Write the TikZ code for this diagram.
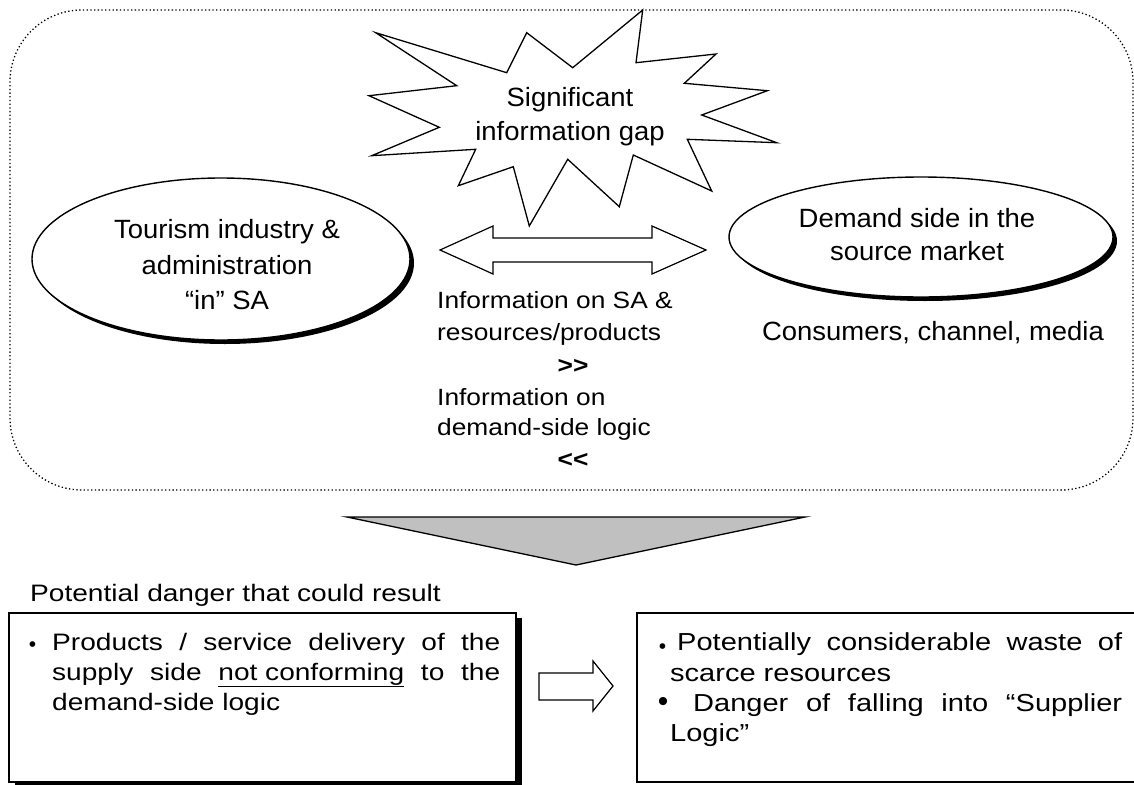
\documentclass[tikz,border=0pt]{standalone}
\usepackage{fontspec}
\setmainfont{Liberation Sans}
% slightly widened faces for the different text groups
\newfontfamily\topfont{Liberation Sans}[FakeStretch=1.04]
\newfontfamily\infofont{Liberation Sans}[FakeStretch=1.12]
\newfontfamily\lowfont{Liberation Sans}[FakeStretch=1.18]
\usetikzlibrary{shapes.geometric,shadows}
\definecolor{arrowgray}{RGB}{192,192,192}

\begin{document}
\begin{tikzpicture}[x=1pt,y=-1pt,
  txt/.style={font=\topfont\fontsize{26.4}{34}\selectfont, inner sep=0, anchor=base},
  infotxt/.style={font=\infofont\fontsize{23.5}{32}\selectfont, inner sep=0, anchor=base west},
  boxtxt/.style={font=\lowfont\fontsize{23.8}{30}\selectfont, inner sep=0, anchor=base west},
  rboxtxt/.style={font=\lowfont\fontsize{24.6}{30}\selectfont, inner sep=0, anchor=base west},
  dot/.style={inner sep=0, anchor=base},
  frame/.style={draw, line width=1.3pt, dash pattern=on 1.3pt off 2.4pt, rounded corners=72pt, inner sep=0},
  bubble/.style={ellipse, draw, line width=1.4pt, fill=white, inner sep=0,
    drop shadow={shadow xshift=4pt, shadow yshift=-4pt, fill=black, opacity=1}},
  burst/.style={draw, line width=1.3pt, fill=white, line join=miter},
  blockarrow/.style={draw, line width=1.2pt, fill=white, line join=miter},
  resultbox/.style={rectangle, draw, line width=2.4pt, fill=white, inner sep=0}]

\useasboundingbox (0,0) rectangle (1134,784);
\clip (0,0) rectangle (1134,784);

% dotted frame around the upper part
\node[frame, minimum width=1123pt, minimum height=480pt] (frame) at (571.5,250) {};

% information-gap starburst
\draw[burst] (375.7,32.7) -- (506.7,72.7) -- (526.7,32.7) -- (572.7,67.7) -- (642.7,10)
  -- (636,62.7) -- (716,54) -- (684.3,83.3) -- (767.3,90.7) -- (701.7,115)
  -- (776.7,142.7) -- (687.3,139.3) -- (711.7,191) -- (633.3,155) -- (619.3,206.7)
  -- (567.7,159.3) -- (529.3,226) -- (513.3,166.7) -- (458.3,185.7) -- (475.7,149.3)
  -- (371.7,155.7) -- (439.3,127.3) -- (369,95.7) -- (456.7,85.7) -- cycle;
\node[txt] (gap1) at (570,106) {Significant};
\node[txt] (gap2) at (570,140) {information gap};

% supply side
\node[bubble, minimum width=378pt, minimum height=162pt] (supply) at (221,259) {};
\node[txt] (sup1) at (227,238) {Tourism industry \&};
\node[txt] (sup2) at (227,274) {administration};
\node[txt] (sup3) at (227,309) {“in” SA};

% demand side
\node[bubble, minimum width=384pt, minimum height=120pt] (demand) at (921,237) {};
\node[txt] (dem1) at (917,227) {Demand side in the};
\node[txt] (dem2) at (917,260) {source market};
\node[txt] (dem3) at (933,340) {Consumers, channel, media};

% two-way information flow
\draw[blockarrow] (440,250) -- (493,226) -- (493,238) -- (652,238) -- (652,226)
  -- (706,250) -- (652,274) -- (652,262) -- (493,262) -- (493,274) -- cycle;
\node[infotxt] (inf1) at (437,308) {Information on SA \&};
\node[infotxt] (inf2) at (437,340) {resources/products};
\node[infotxt, anchor=base, font=\infofont\fontsize{23.5}{32}\selectfont\bfseries] (more) at (573,373) {>{}>};
\node[infotxt] (inf3) at (437,405) {Information on};
\node[infotxt] (inf4) at (437,435) {demand-side logic};
\node[infotxt, anchor=base, font=\infofont\fontsize{23.5}{32}\selectfont\bfseries] (less) at (573,467) {<{}<};

% downward arrow
\draw[line width=1.3pt, fill=arrowgray, line join=miter] (347,517) -- (805,517) -- (576,565) -- cycle;

\node[boxtxt] (danger) at (30,601) {Potential danger that could result};

% consequence boxes
\node[resultbox, minimum width=507pt, minimum height=169pt,
  drop shadow={shadow xshift=6pt, shadow yshift=-5pt, fill=black, opacity=1}] (cause) at (262.5,697.5) {};
\node[resultbox, minimum width=510pt, minimum height=169pt] (effect) at (892,697.5) {};

\node[dot, font=\fontsize{21}{30}\selectfont] (cb1) at (32.5,651) {\textbullet};
\node[boxtxt] (c1) at (52,650) {\makebox[448pt][s]{Products / service delivery of the}};
\node[boxtxt] (c2) at (52,680) {\makebox[448pt][s]{supply side \underline{not conforming} to the}};
\node[boxtxt] (c3) at (52,710) {demand-side logic};

\draw[blockarrow] (539,673) -- (593,673) -- (593,661) -- (613,686) -- (593,711)
  -- (593,700) -- (539,700) -- cycle;

\node[dot, font=\fontsize{21}{30}\selectfont] (eb1) at (662.5,653) {\textbullet};
\node[rboxtxt] (e1) at (677,650) {\makebox[445pt][s]{Potentially considerable waste of}};
\node[rboxtxt] (e2) at (670,681) {scarce resources};
\node[dot, font=\fontsize{30}{30}\selectfont] (eb2) at (663,711) {\textbullet};
\node[rboxtxt] (e3) at (693,711) {\makebox[429pt][s]{Danger of falling into “Supplier}};
\node[rboxtxt] (e4) at (670,741) {Logic”};

\end{tikzpicture}
\end{document}
